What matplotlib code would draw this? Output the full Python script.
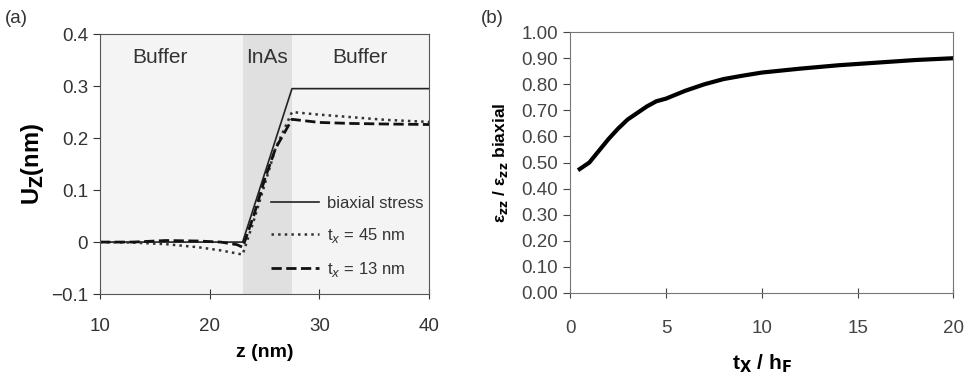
import matplotlib
matplotlib.use("Agg")
from matplotlib import pyplot as plt

# (a) displacement U_z vs z
z_biax = [10, 23, 27.5, 40]
u_biax = [0.0, 0.0, 0.295, 0.295]

z_45 = [10, 13, 16, 19, 21, 23, 24, 25, 26, 27.5, 30, 33, 36, 40]
u_45 = [0.0, -0.001, -0.004, -0.01, -0.016, -0.024, 0.04, 0.11, 0.18, 0.25, 0.245, 0.24, 0.235, 0.231]

z_13 = [10, 13, 16, 19, 21, 22.5, 23, 24, 25, 26, 27.5, 30, 33, 36, 40]
u_13 = [0.0, 0.0, 0.003, 0.002, 0.0, -0.005, -0.01, 0.05, 0.12, 0.18, 0.236, 0.23, 0.228, 0.227, 0.226]

# (b) strain ratio vs t_x / h_F
tx = [0.5, 1.0, 1.5, 2.0, 2.5, 3.0, 3.5, 4.0, 4.5, 5.0, 6.0, 7.0, 8.0, 9.0, 10, 12, 14, 16, 18, 20]
ratio = [0.475, 0.50, 0.545, 0.59, 0.63, 0.665, 0.69, 0.715, 0.735, 0.745, 0.775, 0.80, 0.82, 0.833, 0.845, 0.86, 0.873, 0.883, 0.893, 0.90]

plt.rcParams['font.family'] = ['Liberation Sans', 'DejaVu Sans']

fig = plt.figure(figsize=(9.68, 3.78), dpi=100)
ax1 = fig.add_axes([0.1033, 0.222, 0.340, 0.688])
ax2 = fig.add_axes([0.589, 0.225, 0.396, 0.690])

# panel a
ax1.set_facecolor('#f4f4f4')
ax1.axvspan(23, 27.5, color='#e0e0e0', lw=0)
ax1.plot(z_biax, u_biax, '-', color='#222222', lw=1.2, label='biaxial stress')
ax1.plot(z_45, u_45, ':', color='#333333', lw=1.8, label='t$_x$ = 45 nm')
ax1.plot(z_13, u_13, '--', color='#111111', lw=2.0, label='t$_x$ = 13 nm')
ax1.set_xlim(10, 40)
ax1.set_ylim(-0.1, 0.4)
ax1.set_xticks([10, 20, 30, 40])
ax1.set_yticks([-0.1, 0, 0.1, 0.2, 0.3, 0.4])
ax1.set_yticklabels(['\u22120.1', '0', '0.1', '0.2', '0.3', '0.4'])
ax1.tick_params(axis='x', direction='inout', length=7, labelsize=13.5, colors='#333333', pad=14)
ax1.tick_params(axis='y', direction='out', length=5, labelsize=13.5, colors='#333333')
for s in ax1.spines.values():
    s.set_color('#555555')
ax1.set_xlabel('z (nm)', fontsize=14, fontweight='bold', labelpad=6)
ax1.set_ylabel('U$_\\mathbf{Z}$(nm)', fontsize=17, fontweight='bold', labelpad=4)
for x, t in [(15.5, 'Buffer'), (25.25, 'InAs'), (33.7, 'Buffer')]:
    ax1.text(x, 0.355, t, ha='center', va='center', fontsize=15, color='#333333')
ax1.legend(loc='lower right', frameon=False, fontsize=12, handlelength=2.9,
           handletextpad=0.5, labelspacing=0.9, bbox_to_anchor=(1.03, 0.0),
           labelcolor='#333333')

# panel b
ax2.plot(tx, ratio, '-', color='black', lw=3)
ax2.set_xlim(0, 20)
ax2.set_ylim(0, 1.0)
ax2.set_xticks([0, 5, 10, 15, 20])
ax2.set_yticks([i / 10 for i in range(11)])
ax2.set_yticklabels(['%.2f' % (i / 10) for i in range(11)])
ax2.tick_params(axis='x', direction='inout', length=7, labelsize=13.5, colors='#444444', pad=16)
ax2.tick_params(axis='y', direction='out', length=5, labelsize=13.5, colors='#444444')
for s in ax2.spines.values():
    s.set_color('#777777')
ax2.set_xlabel('t$_\\mathbf{X}$ / h$_\\mathbf{F}$', fontsize=15, fontweight='bold', labelpad=11)
ax2.set_ylabel('\u03b5$_\\mathbf{zz}$ / \u03b5$_\\mathbf{zz}$ biaxial', fontsize=12.5, fontweight='bold', labelpad=8)

fig.text(0.005, 0.952, '(a)', fontsize=13.5, color='#333333', va='center')
fig.text(0.497, 0.952, '(b)', fontsize=13.5, color='#333333', va='center')

fig.savefig('out.png', dpi=100)
